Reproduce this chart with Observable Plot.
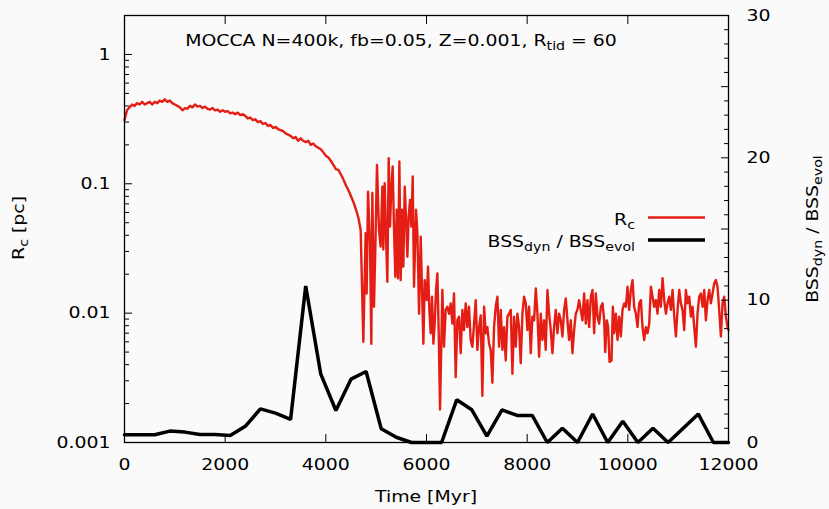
<!DOCTYPE html>
<html><head><meta charset="utf-8">
<script src="https://cdn.jsdelivr.net/npm/d3@7"></script>
<script src="https://cdn.jsdelivr.net/npm/@observablehq/plot@0.6"></script>
<style>
html,body{margin:0;padding:0;background:#fafafa;}
#chart svg{display:block;}
</style></head><body><div id="chart"></div>
<script>
// ---- data ----
// Core radius R_c [pc] vs time [Myr]
const rcSeries = [
[0,0.31],[50,0.37],[100,0.39],[150,0.41],[200,0.40],[250,0.42],[300,0.41],[350,0.43],[400,0.41],[450,0.42],
[500,0.43],[550,0.41],[600,0.43],[650,0.42],[700,0.44],[750,0.43],[800,0.45],[850,0.43],[900,0.44],[950,0.42],
[1000,0.41],[1050,0.40],[1100,0.39],[1150,0.37],[1200,0.385],[1250,0.38],[1300,0.40],[1350,0.39],[1400,0.41],[1450,0.395],
[1500,0.40],[1550,0.385],[1600,0.395],[1650,0.38],[1700,0.375],[1750,0.385],[1800,0.37],[1850,0.375],[1900,0.36],[1950,0.37],
[2000,0.36],[2050,0.365],[2100,0.35],[2150,0.355],[2200,0.345],[2250,0.355],[2300,0.34],[2350,0.345],[2400,0.335],[2450,0.32],
[2500,0.325],[2550,0.31],[2600,0.315],[2650,0.30],[2700,0.305],[2750,0.29],[2800,0.295],[2850,0.28],[2900,0.285],[2950,0.27],
[3000,0.275],[3050,0.265],[3100,0.26],[3150,0.255],[3200,0.245],[3250,0.24],[3300,0.235],[3350,0.225],[3400,0.23],[3450,0.215],
[3500,0.225],[3550,0.215],[3600,0.21],[3650,0.215],[3700,0.20],[3750,0.205],[3800,0.195],[3850,0.19],[3900,0.185],[3950,0.175],
[4000,0.165],[4050,0.16],[4100,0.15],[4150,0.14],[4200,0.13],[4250,0.128],[4300,0.118],[4350,0.108],[4400,0.097],[4450,0.089],
[4500,0.08],[4550,0.072],[4600,0.063],[4650,0.054],[4692,0.044],
[4745,0.0060],[4791,0.0415],[4811,0.0142],[4838,0.087],[4877,0.0347],[4904,0.0058],[4924,0.085],[4957,0.0112],[4990,0.0415],[5016,0.140],
[5056,0.044],[5089,0.0327],[5123,0.095],[5142,0.031],[5169,0.101],[5195,0.0415],[5222,0.0175],[5249,0.158],[5275,0.0467],[5302,0.095],
[5328,0.136],[5355,0.044],[5381,0.0191],[5408,0.063],[5434,0.0186],[5461,0.149],[5487,0.018],[5514,0.063],[5540,0.0229],[5567,0.095],
[5593,0.0558],[5620,0.0273],[5646,0.0558],[5673,0.075],[5699,0.0467],[5726,0.114],[5752,0.016],[5792,0.063],[5819,0.0415],[5852,0.0099],
[5885,0.039],[5911,0.0151],[5938,0.0058],[5964,0.018],[6004,0.0126],[6030,0.0229],[6057,0.0106],[6083,0.0070],[6110,0.0134],[6137,0.0058],
[6163,0.0083],[6189,0.0151],[6216,0.0203],[6243,0.0070],[6269,0.0018],
[6315,0.0151],[6348,0.0055],[6381,0.0106],[6414,0.0112],[6448,0.0099],[6481,0.0119],[6514,0.0083],[6547,0.0142],[6580,0.0032],[6613,0.0088],
[6646,0.0094],[6680,0.0049],[6713,0.0106],[6746,0.0074],[6779,0.0119],[6812,0.0078],[6845,0.0112],[6878,0.0062],[6912,0.0055],[6945,0.0083],
[6978,0.0126],[7011,0.0052],[7044,0.0078],[7077,0.0096],[7110,0.0023],[7144,0.0112],[7177,0.0070],[7210,0.0078],[7243,0.0058],[7276,0.0052],
[7309,0.0029],[7342,0.0078],[7375,0.0112],[7409,0.0134],[7442,0.0055],[7475,0.0106],[7508,0.0052],[7541,0.0078],[7574,0.0043],[7607,0.0094],
[7641,0.0099],[7674,0.0106],[7707,0.0034],[7740,0.0094],[7773,0.0055],[7806,0.0099],[7839,0.0078],[7872,0.0041],[7906,0.0099],[7939,0.0134],
[7972,0.0119],[8005,0.0074],[8038,0.0112],[8071,0.0049],[8104,0.0094],[8138,0.0088],[8171,0.0155],[8204,0.0099],[8237,0.0046],[8270,0.0099],
[8303,0.0062],[8336,0.0088],[8369,0.0052],[8403,0.0151],[8436,0.0099],[8469,0.0074],[8502,0.0049],[8535,0.0078],[8568,0.0106],[8601,0.0070],
[8635,0.0099],[8668,0.0088],[8701,0.0066],[8734,0.0106],[8767,0.0130],[8800,0.0088],[8833,0.0062],[8867,0.0088],[8900,0.0049],[8933,0.0074],
[8966,0.0099],[8999,0.0106],[9032,0.0126],
[9099,0.0088],[9132,0.0142],[9165,0.0083],[9198,0.0126],[9232,0.0078],[9265,0.0134],[9298,0.0151],[9331,0.0070],[9364,0.0142],[9397,0.0094],
[9430,0.0083],[9464,0.0112],[9497,0.0119],[9530,0.0088],[9550,0.0050],[9583,0.0088],[9609,0.0078],[9636,0.0042],[9676,0.0043],[9702,0.0112],
[9729,0.0070],[9762,0.0099],[9795,0.0062],[9828,0.0094],[9861,0.0066],[9894,0.0106],[9928,0.0119],[9961,0.0112],[9994,0.0160],[10027,0.0106],
[10060,0.0151],[10093,0.0180],[10126,0.0112],[10159,0.0099],[10193,0.0078],[10226,0.0119],[10259,0.0126],[10292,0.0078],[10325,0.0062],[10358,0.0078],
[10391,0.0070],[10425,0.0083],[10458,0.0160],[10491,0.0134],[10524,0.0112],[10557,0.0126],[10590,0.0099],[10623,0.0151],[10656,0.0112],[10690,0.0186],
[10723,0.0126],[10756,0.0099],[10789,0.0119],[10822,0.0134],[10855,0.0106],[10888,0.0151],[10922,0.0094],[10955,0.0066],[10988,0.0106],[11021,0.0151],
[11054,0.0119],[11087,0.0106],[11120,0.0074],[11153,0.0151],[11187,0.0119],[11220,0.0134],[11253,0.0094],[11286,0.0112],[11319,0.0078],[11352,0.0055],
[11385,0.0099],[11418,0.0134],[11451,0.0142],[11485,0.0112],[11518,0.0151],[11551,0.0088],[11584,0.0126],[11617,0.0151],[11650,0.0119],[11683,0.0142],
[11716,0.0170],[11749,0.0180],[11782,0.0160],[11815,0.0106],[11849,0.0066],[11882,0.0119],[11915,0.0134],[11948,0.0094],[11981,0.0078],[12000,0.0074]
];
// BSS_dyn / BSS_evol vs time [Myr]
const bssTime  = [0,600,900,1200,1500,1800,2100,2400,2700,3000,3300,3600,3900,4200,4500,4800,5100,5400,5700,6000,6300,6600,6900,7200,7500,7800,8100,8400,8700,9000,9300,9600,9900,10200,10500,10800,11400,11700,12000];
const bssValue = [0.55,0.54,0.8,0.73,0.56,0.56,0.49,1.14,2.36,2.06,1.62,11.0,4.8,2.25,4.45,4.99,0.97,0.37,0,0,0,3.0,2.3,0.45,2.3,1.9,1.9,0,1,0,2,0,1.5,0,1,0,2,0,0];
// axes
const xTicks = [0,2000,4000,6000,8000,10000,12000];
const yTicks = [0.001,0.01,0.1,1];
const bssTicks = [0,5,10,15,20,25,30];
const titleMain = "MOCCA N=400k, fb=0.05, Z=0.001, R";
const titleSub = "tid";
const titleEnd = " = 60";

// ---- layout ----
const W = 829, H = 509, mL = 124, mR = 101, mT = 15, mB = 67;
const yMin = 0.001, yMax = 2, bssMax = 30;
const SX = 1.18; // horizontal text stretch of the reference
const bssY = v => yMin * Math.pow(yMax / yMin, v / bssMax);
const yToBss = y => Math.round(bssMax * Math.log(y / yMin) / Math.log(yMax / yMin));
const rcData = rcSeries.map(([t, v]) => ({t, v}));
const bssData = bssTime.map((t, i) => ({t, v: bssValue[i]}));
const minorLog = [];
for (let k = -3; k <= 0; k++) for (let m = 2; m <= 9; m++) { const v = m * Math.pow(10, k); if (v < yMax) minorLog.push(v); }
const bssMinor = d3.range(0, bssMax + 1).filter(v => v % 5 !== 0);
const FS = 16;
const blank = () => "";

const chart = Plot.plot({
  width: W, height: H, marginLeft: mL, marginRight: mR, marginTop: mT, marginBottom: mB,
  style: {background: "#fafafa", fontFamily: "'DejaVu Sans', sans-serif", fontSize: FS + "px", color: "#000"},
  x: {domain: [0, 12000]},
  y: {type: "log", domain: [yMin, yMax]},
  marks: [
    Plot.line(rcData, {x: "t", y: "v", stroke: "#e41e14", strokeWidth: 2.4}),
    Plot.line(bssData, {x: "t", y: d => bssY(d.v), stroke: "#000", strokeWidth: 3.5, strokeLinejoin: "miter"}),
    Plot.frame({stroke: "#000", strokeWidth: 1.3}),
    Plot.axisX({anchor: "bottom", ticks: xTicks, tickSize: 0, tickPadding: 16, tickFormat: d => String(d), label: null}),
    Plot.axisX({anchor: "bottom", ticks: xTicks, tickSize: 8, dy: -8, tickFormat: blank, label: null}),
    Plot.axisX({anchor: "top", ticks: xTicks, tickSize: 8, dy: 8, tickFormat: blank, label: null}),
    Plot.axisY({anchor: "left", ticks: yTicks, tickSize: 0, tickPadding: 14, tickFormat: d => String(d), label: null}),
    Plot.axisY({anchor: "left", ticks: yTicks, tickSize: 8, dx: 8, tickFormat: blank, label: null}),
    Plot.axisY({anchor: "left", ticks: minorLog, tickSize: 5, dx: 5, tickFormat: blank, label: null}),
    Plot.axisY({anchor: "right", ticks: bssTicks.map(bssY), tickSize: 0, tickPadding: 18, tickFormat: d => String(yToBss(d)), label: null}),
    Plot.axisY({anchor: "right", ticks: bssTicks.map(bssY), tickSize: 8, dx: -8, tickFormat: blank, label: null}),
    Plot.axisY({anchor: "right", ticks: bssMinor.map(bssY), tickSize: 5, dx: -5, tickFormat: blank, label: null})
  ]
});
document.getElementById("chart").appendChild(chart);

// stretch Plot's tick labels horizontally about their anchor
d3.select(chart).selectAll("text").each(function () {
  const tr = this.getAttribute("transform");
  if (tr) this.setAttribute("transform", tr + ` scale(${SX},1)`);
});

// ---- text with subscripts ----
const svg = d3.select(chart);
const g = svg.append("g").attr("font-family", "'DejaVu Sans', sans-serif").attr("fill", "#000");
function subText(parent, parts, size, anchor, transform) {
  const t = parent.append("text").attr("font-size", size).attr("text-anchor", anchor)
    .attr("transform", transform + ` scale(${SX},1)`);
  let shift = 0;
  for (const [s, sub] of parts) {
    const want = sub ? 4 : 0;
    const ts = t.append("tspan").text(s).attr("dy", want - shift);
    if (sub) ts.attr("font-size", size * 0.75);
    shift = want;
  }
  return t;
}
// title
subText(g, [[titleMain, false], [titleSub, true], [titleEnd, false]], FS, "middle", "translate(401,46)");
// left axis label
subText(g, [["R", false], ["c", true], [" [pc]", false]], FS, "middle", "translate(24,228) rotate(-90)");
// right axis label
subText(g, [["BSS", false], ["dyn", true], [" / BSS", false], ["evol", true]], FS, "middle", "translate(818,229) rotate(-90)");
// x axis label
subText(g, [["Time [Myr]", false]], FS, "middle", "translate(426,502)");
// legend
subText(g, [["R", false], ["c", true]], FS, "end", "translate(635,225)");
g.append("line").attr("x1", 648).attr("x2", 705).attr("y1", 217.5).attr("y2", 217.5).attr("stroke", "#e41e14").attr("stroke-width", 2.4);
subText(g, [["BSS", false], ["dyn", true], [" / BSS", false], ["evol", true]], FS, "end", "translate(635,247)");
g.append("line").attr("x1", 648).attr("x2", 705).attr("y1", 240).attr("y2", 240).attr("stroke", "#000").attr("stroke-width", 3.5);
</script></body></html>
